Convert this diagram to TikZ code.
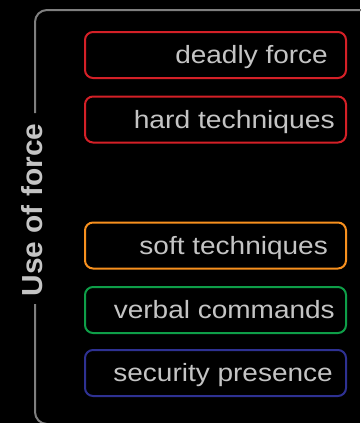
\documentclass[tikz,border=0pt]{standalone}
\usepackage{fontspec}
\setmainfont{Liberation Sans}
\definecolor{bg}{HTML}{000000}
\definecolor{brk}{HTML}{7F7F7F}
\definecolor{txt}{HTML}{C4C4C4}
\definecolor{cred}{HTML}{D42027}
\definecolor{corange}{HTML}{F7901E}
\definecolor{cgreen}{HTML}{0E9E48}
\definecolor{cblue}{HTML}{2E3192}
\begin{document}
\begin{tikzpicture}[x=1pt,y=-1pt,
  levelbox/.style={draw=#1, line width=2pt, rounded corners=8pt, minimum width=261pt, minimum height=46pt, inner sep=0pt},
  leveltext/.style={text=txt, anchor=base east, inner sep=0pt, font=\fontsize{25}{25}\selectfont},
  bracketline/.style={draw=brk, line width=2pt, rounded corners=12pt}]
\fill[bg] (0,0) rectangle (360,423);
\useasboundingbox (0,0) rectangle (360,423);
\node[text=txt, rotate=90, inner sep=0pt, font=\bfseries\fontsize{29}{29}\selectfont] (title) at (32,210) {\scalebox{1.03}[1]{Use of force}};
\coordinate (tr) at (365,10);
\coordinate (tl) at (35,10);
\coordinate (gapTop) at (35,113);
\coordinate (gapBot) at (35,304);
\coordinate (bl) at (35,424);
\coordinate (br) at (365,424);
\draw[bracketline] (tr) -- (tl) -- (gapTop);
\draw[bracketline] (gapBot) -- (bl) -- (br);
\node[levelbox=cred] (b1) at (215.5,55) {};
\node[levelbox=cred] (b2) at (215.5,119.5) {};
\node[levelbox=corange] (b3) at (215.5,245.5) {};
\node[levelbox=cgreen] (b4) at (215.5,310) {};
\node[levelbox=cblue] (b5) at (215.5,373) {};
\node[leveltext] (t1) at (328,63) {\scalebox{1.12}[1]{deadly force}};
\node[leveltext] (t2) at (335,128) {\scalebox{1.13}[1]{hard techniques}};
\node[leveltext] (t3) at (328,254) {\scalebox{1.12}[1]{soft techniques}};
\node[leveltext] (t4) at (335,318.5) {\scalebox{1.12}[1]{verbal commands}};
\node[leveltext] (t5) at (333,381.5) {\scalebox{1.12}[1]{security presence}};
\end{tikzpicture}
\end{document}
